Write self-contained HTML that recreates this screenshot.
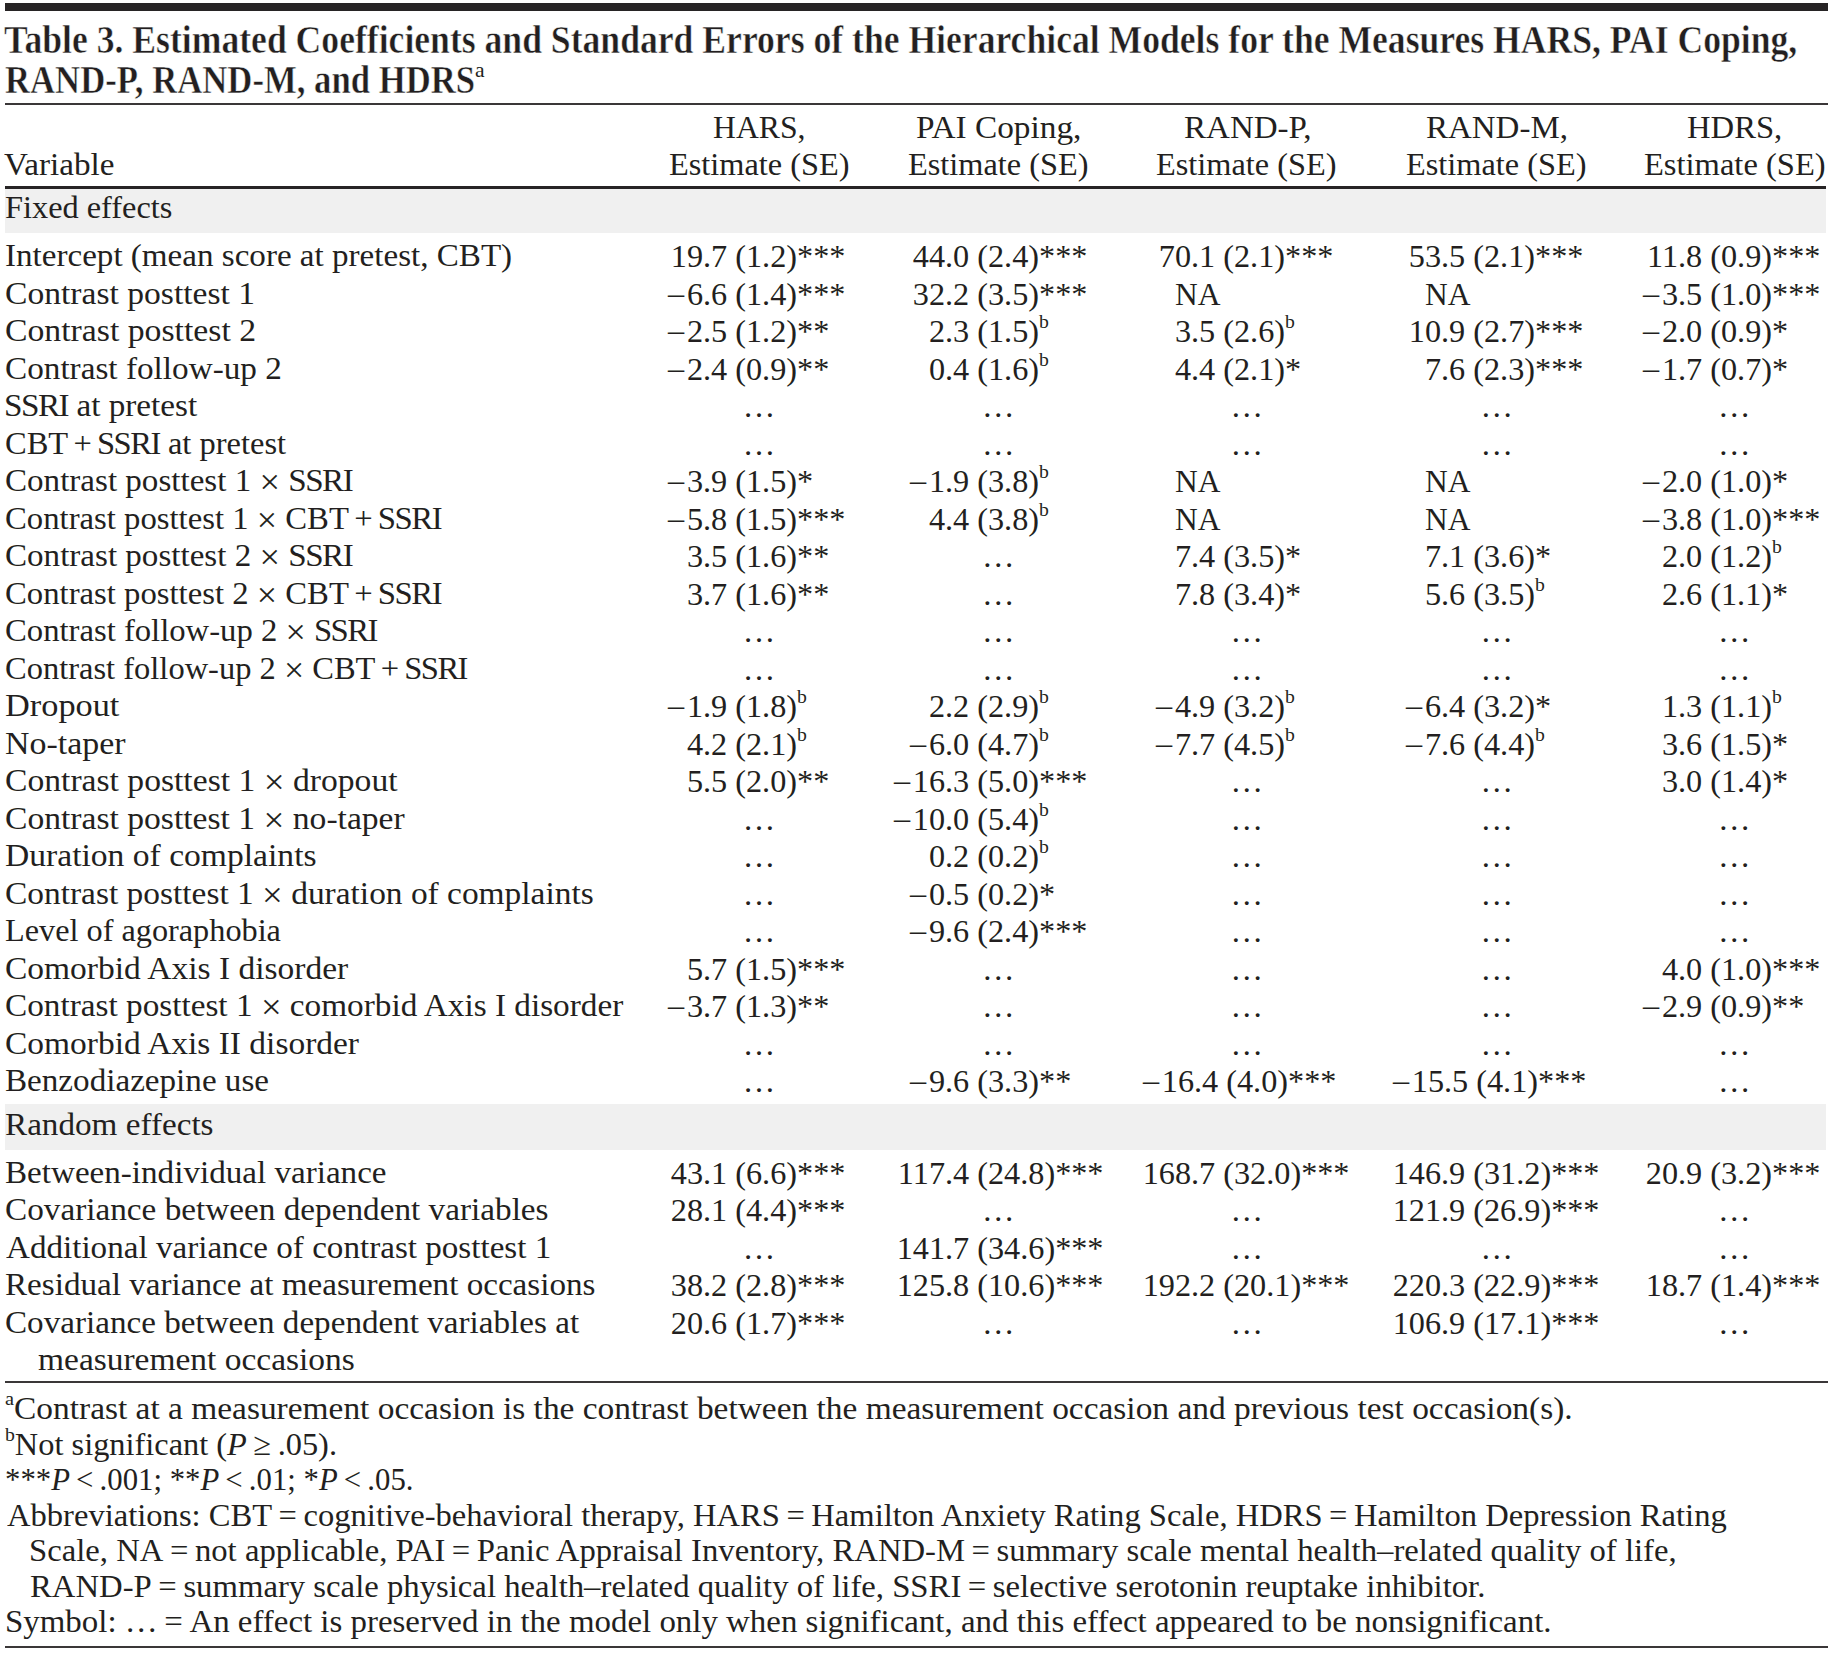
<!DOCTYPE html>
<html lang="en"><head><meta charset="utf-8"><title>Table 3</title>
<style>
html,body{margin:0;padding:0;background:#fff}
body{width:1839px;height:1656px;overflow:hidden;position:relative;color:#231f20;
 font-family:"Liberation Serif","DejaVu Serif",serif;font-size:32.5px}
#tbl{position:absolute;left:0;top:0;width:1839px;height:1656px}
.r{position:absolute;background:#272425;left:5px;width:1823px}
.r.thin{background:#3a3738}
.g{position:absolute;background:#f0f0f0;left:5px;width:1821px}
.row,.head,.sect,.title,.note{position:absolute;left:0;width:1839px;height:37.5px;line-height:37.5px}
.note{height:35.5px;line-height:35.5px}
.title{height:40px;line-height:40px;font-size:40.7px;font-weight:bold;-webkit-text-stroke:.5px #fff}
.t{position:absolute;top:0;white-space:nowrap;transform-origin:0 0}
.c{top:1px}
.ip{position:absolute;right:100%;top:0}
sup{font-size:.61em;vertical-align:baseline;position:relative;top:-.7em;line-height:0}
.title sup{font-size:.52em;top:-.76em;font-weight:normal;display:inline-block;transform:scaleX(1.2);transform-origin:0 50%;-webkit-text-stroke:0}
i{font-style:italic}
.m{position:relative;top:-.045em;margin-right:.085em}
.x{font-size:1.1em;position:relative;top:.07em;line-height:0}
.sc{letter-spacing:-.045em}
.op{margin:0 .16em}
</style></head>
<body>
<div id="tbl">
<div class="r" style="top:3px;height:8px"></div>
<div class="r thin" style="top:103px;height:2px"></div>
<div class="r" style="top:186px;height:3px;width:1821px"></div>
<div class="g" style="top:189px;height:44px"></div>
<div class="g" style="top:1104px;height:46px"></div>
<div class="r thin" style="top:1381px;height:2px"></div>
<div class="r thin" style="top:1646px;height:2px"></div>
<div class="title" style="top:19.60px">
 <div id="t0" class="t ti" style="left:3.98px;transform:scaleX(0.8755)">Table 3. Estimated Coefficients and Standard Errors of the Hierarchical Models for the Measures HARS, PAI Coping,</div>
</div>
<div class="title" style="top:59.60px">
 <div id="t1" class="t ti" style="left:5.49px;transform:scaleX(0.8529)">RAND-P, RAND-M, and HDRS<sup>a</sup></div>
</div>
<div class="head" style="top:109.35px">
 <div id="t2" class="t h" style="left:713.03px;transform:scaleX(0.9759)">HARS,</div>
 <div id="t3" class="t h" style="left:916.46px;transform:scaleX(1.0253)">PAI Coping,</div>
 <div id="t4" class="t h" style="left:1183.98px;transform:scaleX(1.0163)">RAND-P,</div>
 <div id="t5" class="t h" style="left:1425.99px;transform:scaleX(1.0146)">RAND-M,</div>
 <div id="t6" class="t h" style="left:1686.99px;transform:scaleX(1.0045)">HDRS,</div>
</div>
<div class="head" style="top:146.35px">
 <div id="t7" class="t l" style="left:3.98px;transform:scaleX(1.0208)">Variable</div>
 <div id="t8" class="t h" style="left:669.01px;transform:scaleX(0.9955)">Estimate (SE)</div>
 <div id="t9" class="t h" style="left:907.76px;transform:scaleX(0.9944)">Estimate (SE)</div>
 <div id="t10" class="t h" style="left:1156.01px;transform:scaleX(0.9944)">Estimate (SE)</div>
 <div id="t11" class="t h" style="left:1406.01px;transform:scaleX(0.9944)">Estimate (SE)</div>
 <div id="t12" class="t h" style="left:1644.00px;transform:scaleX(1.0011)">Estimate (SE)</div>
</div>
<div class="sect" style="top:189.35px">
 <div id="t13" class="t l" style="left:5.00px;transform:scaleX(0.9952)">Fixed effects</div>
</div>
<div class="row" style="top:237.35px">
 <div id="t14" class="t l" style="left:4.98px;transform:scaleX(1.0181)">Intercept (mean score at pretest, CBT)</div>
 <div id="t15" class="t c n" style="left:703.15px;transform:scaleX(0.9920)"><span class="ip">19</span>.7 (1.2)***</div>
 <div id="t16" class="t c n" style="left:944.75px;transform:scaleX(0.9920)"><span class="ip">44</span>.0 (2.4)***</div>
 <div id="t17" class="t c n" style="left:1190.65px;transform:scaleX(0.9920)"><span class="ip">70</span>.1 (2.1)***</div>
 <div id="t18" class="t c n" style="left:1440.65px;transform:scaleX(0.9920)"><span class="ip">53</span>.5 (2.1)***</div>
 <div id="t19" class="t c n" style="left:1678.00px;transform:scaleX(0.9920)"><span class="ip">11</span>.8 (0.9)***</div>
</div>
<div class="row" style="top:275.35px">
 <div id="t20" class="t l" style="left:4.97px;transform:scaleX(1.0335)">Contrast posttest 1</div>
 <div id="t21" class="t c n" style="left:703.15px;transform:scaleX(0.9920)"><span class="ip"><span class="m">–</span>6</span>.6 (1.4)***</div>
 <div id="t22" class="t c n" style="left:944.75px;transform:scaleX(0.9920)"><span class="ip">32</span>.2 (3.5)***</div>
 <div id="t23" class="t c" style="left:1175.26px;transform:scaleX(0.9697)">NA</div>
 <div id="t24" class="t c" style="left:1425.26px;transform:scaleX(0.9697)">NA</div>
 <div id="t25" class="t c n" style="left:1678.00px;transform:scaleX(0.9920)"><span class="ip"><span class="m">–</span>3</span>.5 (1.0)***</div>
</div>
<div class="row" style="top:312.35px">
 <div id="t26" class="t l" style="left:4.96px;transform:scaleX(1.0377)">Contrast posttest 2</div>
 <div id="t27" class="t c n" style="left:703.15px;transform:scaleX(0.9920)"><span class="ip"><span class="m">–</span>2</span>.5 (1.2)**</div>
 <div id="t28" class="t c n" style="left:944.75px;transform:scaleX(0.9920)"><span class="ip">2</span>.3 (1.5)<sup>b</sup></div>
 <div id="t29" class="t c n" style="left:1190.65px;transform:scaleX(0.9920)"><span class="ip">3</span>.5 (2.6)<sup>b</sup></div>
 <div id="t30" class="t c n" style="left:1440.65px;transform:scaleX(0.9920)"><span class="ip">10</span>.9 (2.7)***</div>
 <div id="t31" class="t c n" style="left:1678.00px;transform:scaleX(0.9920)"><span class="ip"><span class="m">–</span>2</span>.0 (0.9)*</div>
</div>
<div class="row" style="top:350.35px">
 <div id="t32" class="t l" style="left:4.98px;transform:scaleX(1.0224)">Contrast follow-up 2</div>
 <div id="t33" class="t c n" style="left:703.15px;transform:scaleX(0.9920)"><span class="ip"><span class="m">–</span>2</span>.4 (0.9)**</div>
 <div id="t34" class="t c n" style="left:944.75px;transform:scaleX(0.9920)"><span class="ip">0</span>.4 (1.6)<sup>b</sup></div>
 <div id="t35" class="t c n" style="left:1190.65px;transform:scaleX(0.9920)"><span class="ip">4</span>.4 (2.1)*</div>
 <div id="t36" class="t c n" style="left:1440.65px;transform:scaleX(0.9920)"><span class="ip">7</span>.6 (2.3)***</div>
 <div id="t37" class="t c n" style="left:1678.00px;transform:scaleX(0.9920)"><span class="ip"><span class="m">–</span>1</span>.7 (0.7)*</div>
</div>
<div class="row" style="top:387.35px">
 <div id="t38" class="t l" style="left:3.96px;transform:scaleX(1.0214)"><span class="sc">SSRI</span> at pretest</div>
 <div id="t39" class="t c e" style="left:742.75px">…</div>
 <div id="t40" class="t c e" style="left:982.00px">…</div>
 <div id="t41" class="t c e" style="left:1230.50px">…</div>
 <div id="t42" class="t c e" style="left:1480.50px">…</div>
 <div id="t43" class="t c e" style="left:1718.00px">…</div>
</div>
<div class="row" style="top:425.35px">
 <div id="t44" class="t l" style="left:5.00px">CBT<span class="op">+</span><span class="sc">SSRI</span> at pretest</div>
 <div id="t45" class="t c e" style="left:742.75px">…</div>
 <div id="t46" class="t c e" style="left:982.00px">…</div>
 <div id="t47" class="t c e" style="left:1230.50px">…</div>
 <div id="t48" class="t c e" style="left:1480.50px">…</div>
 <div id="t49" class="t c e" style="left:1718.00px">…</div>
</div>
<div class="row" style="top:462.35px">
 <div id="t50" class="t l" style="left:4.98px;transform:scaleX(1.0176)">Contrast posttest 1 <span class="x">×</span> <span class="sc">SSRI</span></div>
 <div id="t51" class="t c n" style="left:703.15px;transform:scaleX(0.9920)"><span class="ip"><span class="m">–</span>3</span>.9 (1.5)*</div>
 <div id="t52" class="t c n" style="left:944.75px;transform:scaleX(0.9920)"><span class="ip"><span class="m">–</span>1</span>.9 (3.8)<sup>b</sup></div>
 <div id="t53" class="t c" style="left:1175.26px;transform:scaleX(0.9697)">NA</div>
 <div id="t54" class="t c" style="left:1425.26px;transform:scaleX(0.9697)">NA</div>
 <div id="t55" class="t c n" style="left:1678.00px;transform:scaleX(0.9920)"><span class="ip"><span class="m">–</span>2</span>.0 (1.0)*</div>
</div>
<div class="row" style="top:500.35px">
 <div id="t56" class="t l" style="left:4.99px;transform:scaleX(1.0069)">Contrast posttest 1 <span class="x">×</span> CBT<span class="op">+</span><span class="sc">SSRI</span></div>
 <div id="t57" class="t c n" style="left:703.15px;transform:scaleX(0.9920)"><span class="ip"><span class="m">–</span>5</span>.8 (1.5)***</div>
 <div id="t58" class="t c n" style="left:944.75px;transform:scaleX(0.9920)"><span class="ip">4</span>.4 (3.8)<sup>b</sup></div>
 <div id="t59" class="t c" style="left:1175.26px;transform:scaleX(0.9697)">NA</div>
 <div id="t60" class="t c" style="left:1425.26px;transform:scaleX(0.9697)">NA</div>
 <div id="t61" class="t c n" style="left:1678.00px;transform:scaleX(0.9920)"><span class="ip"><span class="m">–</span>3</span>.8 (1.0)***</div>
</div>
<div class="row" style="top:537.35px">
 <div id="t62" class="t l" style="left:4.98px;transform:scaleX(1.0176)">Contrast posttest 2 <span class="x">×</span> <span class="sc">SSRI</span></div>
 <div id="t63" class="t c n" style="left:703.15px;transform:scaleX(0.9920)"><span class="ip">3</span>.5 (1.6)**</div>
 <div id="t64" class="t c e" style="left:982.00px">…</div>
 <div id="t65" class="t c n" style="left:1190.65px;transform:scaleX(0.9920)"><span class="ip">7</span>.4 (3.5)*</div>
 <div id="t66" class="t c n" style="left:1440.65px;transform:scaleX(0.9920)"><span class="ip">7</span>.1 (3.6)*</div>
 <div id="t67" class="t c n" style="left:1678.00px;transform:scaleX(0.9920)"><span class="ip">2</span>.0 (1.2)<sup>b</sup></div>
</div>
<div class="row" style="top:575.35px">
 <div id="t68" class="t l" style="left:4.99px;transform:scaleX(1.0069)">Contrast posttest 2 <span class="x">×</span> CBT<span class="op">+</span><span class="sc">SSRI</span></div>
 <div id="t69" class="t c n" style="left:703.15px;transform:scaleX(0.9920)"><span class="ip">3</span>.7 (1.6)**</div>
 <div id="t70" class="t c e" style="left:982.00px">…</div>
 <div id="t71" class="t c n" style="left:1190.65px;transform:scaleX(0.9920)"><span class="ip">7</span>.8 (3.4)*</div>
 <div id="t72" class="t c n" style="left:1440.65px;transform:scaleX(0.9920)"><span class="ip">5</span>.6 (3.5)<sup>b</sup></div>
 <div id="t73" class="t c n" style="left:1678.00px;transform:scaleX(0.9920)"><span class="ip">2</span>.6 (1.1)*</div>
</div>
<div class="row" style="top:612.35px">
 <div id="t74" class="t l" style="left:4.99px;transform:scaleX(1.0054)">Contrast follow-up 2 <span class="x">×</span> <span class="sc">SSRI</span></div>
 <div id="t75" class="t c e" style="left:742.75px">…</div>
 <div id="t76" class="t c e" style="left:982.00px">…</div>
 <div id="t77" class="t c e" style="left:1230.50px">…</div>
 <div id="t78" class="t c e" style="left:1480.50px">…</div>
 <div id="t79" class="t c e" style="left:1718.00px">…</div>
</div>
<div class="row" style="top:650.35px">
 <div id="t80" class="t l" style="left:5.00px">Contrast follow-up 2 <span class="x">×</span> CBT<span class="op">+</span><span class="sc">SSRI</span></div>
 <div id="t81" class="t c e" style="left:742.75px">…</div>
 <div id="t82" class="t c e" style="left:982.00px">…</div>
 <div id="t83" class="t c e" style="left:1230.50px">…</div>
 <div id="t84" class="t c e" style="left:1480.50px">…</div>
 <div id="t85" class="t c e" style="left:1718.00px">…</div>
</div>
<div class="row" style="top:687.35px">
 <div id="t86" class="t l" style="left:4.94px;transform:scaleX(1.0561)">Dropout</div>
 <div id="t87" class="t c n" style="left:703.15px;transform:scaleX(0.9920)"><span class="ip"><span class="m">–</span>1</span>.9 (1.8)<sup>b</sup></div>
 <div id="t88" class="t c n" style="left:944.75px;transform:scaleX(0.9920)"><span class="ip">2</span>.2 (2.9)<sup>b</sup></div>
 <div id="t89" class="t c n" style="left:1190.65px;transform:scaleX(0.9920)"><span class="ip"><span class="m">–</span>4</span>.9 (3.2)<sup>b</sup></div>
 <div id="t90" class="t c n" style="left:1440.65px;transform:scaleX(0.9920)"><span class="ip"><span class="m">–</span>6</span>.4 (3.2)*</div>
 <div id="t91" class="t c n" style="left:1678.00px;transform:scaleX(0.9920)"><span class="ip">1</span>.3 (1.1)<sup>b</sup></div>
</div>
<div class="row" style="top:725.35px">
 <div id="t92" class="t l" style="left:4.96px;transform:scaleX(1.0439)">No-taper</div>
 <div id="t93" class="t c n" style="left:703.15px;transform:scaleX(0.9920)"><span class="ip">4</span>.2 (2.1)<sup>b</sup></div>
 <div id="t94" class="t c n" style="left:944.75px;transform:scaleX(0.9920)"><span class="ip"><span class="m">–</span>6</span>.0 (4.7)<sup>b</sup></div>
 <div id="t95" class="t c n" style="left:1190.65px;transform:scaleX(0.9920)"><span class="ip"><span class="m">–</span>7</span>.7 (4.5)<sup>b</sup></div>
 <div id="t96" class="t c n" style="left:1440.65px;transform:scaleX(0.9920)"><span class="ip"><span class="m">–</span>7</span>.6 (4.4)<sup>b</sup></div>
 <div id="t97" class="t c n" style="left:1678.00px;transform:scaleX(0.9920)"><span class="ip">3</span>.6 (1.5)*</div>
</div>
<div class="row" style="top:762.35px">
 <div id="t98" class="t l" style="left:4.97px;transform:scaleX(1.0344)">Contrast posttest 1 <span class="x">×</span> dropout</div>
 <div id="t99" class="t c n" style="left:703.15px;transform:scaleX(0.9920)"><span class="ip">5</span>.5 (2.0)**</div>
 <div id="t100" class="t c n" style="left:944.75px;transform:scaleX(0.9920)"><span class="ip"><span class="m">–</span>16</span>.3 (5.0)***</div>
 <div id="t101" class="t c e" style="left:1230.50px">…</div>
 <div id="t102" class="t c e" style="left:1480.50px">…</div>
 <div id="t103" class="t c n" style="left:1678.00px;transform:scaleX(0.9920)"><span class="ip">3</span>.0 (1.4)*</div>
</div>
<div class="row" style="top:800.35px">
 <div id="t104" class="t l" style="left:4.97px;transform:scaleX(1.0338)">Contrast posttest 1 <span class="x">×</span> no-taper</div>
 <div id="t105" class="t c e" style="left:742.75px">…</div>
 <div id="t106" class="t c n" style="left:944.75px;transform:scaleX(0.9920)"><span class="ip"><span class="m">–</span>10</span>.0 (5.4)<sup>b</sup></div>
 <div id="t107" class="t c e" style="left:1230.50px">…</div>
 <div id="t108" class="t c e" style="left:1480.50px">…</div>
 <div id="t109" class="t c e" style="left:1718.00px">…</div>
</div>
<div class="row" style="top:837.35px">
 <div id="t110" class="t l" style="left:4.97px;transform:scaleX(1.0334)">Duration of complaints</div>
 <div id="t111" class="t c e" style="left:742.75px">…</div>
 <div id="t112" class="t c n" style="left:944.75px;transform:scaleX(0.9920)"><span class="ip">0</span>.2 (0.2)<sup>b</sup></div>
 <div id="t113" class="t c e" style="left:1230.50px">…</div>
 <div id="t114" class="t c e" style="left:1480.50px">…</div>
 <div id="t115" class="t c e" style="left:1718.00px">…</div>
</div>
<div class="row" style="top:875.35px">
 <div id="t116" class="t l" style="left:4.97px;transform:scaleX(1.0281)">Contrast posttest 1 <span class="x">×</span> duration of complaints</div>
 <div id="t117" class="t c e" style="left:742.75px">…</div>
 <div id="t118" class="t c n" style="left:944.75px;transform:scaleX(0.9920)"><span class="ip"><span class="m">–</span>0</span>.5 (0.2)*</div>
 <div id="t119" class="t c e" style="left:1230.50px">…</div>
 <div id="t120" class="t c e" style="left:1480.50px">…</div>
 <div id="t121" class="t c e" style="left:1718.00px">…</div>
</div>
<div class="row" style="top:912.35px">
 <div id="t122" class="t l" style="left:5.01px;transform:scaleX(0.9928)">Level of agoraphobia</div>
 <div id="t123" class="t c e" style="left:742.75px">…</div>
 <div id="t124" class="t c n" style="left:944.75px;transform:scaleX(0.9920)"><span class="ip"><span class="m">–</span>9</span>.6 (2.4)***</div>
 <div id="t125" class="t c e" style="left:1230.50px">…</div>
 <div id="t126" class="t c e" style="left:1480.50px">…</div>
 <div id="t127" class="t c e" style="left:1718.00px">…</div>
</div>
<div class="row" style="top:950.35px">
 <div id="t128" class="t l" style="left:4.97px;transform:scaleX(1.0301)">Comorbid Axis I disorder</div>
 <div id="t129" class="t c n" style="left:703.15px;transform:scaleX(0.9920)"><span class="ip">5</span>.7 (1.5)***</div>
 <div id="t130" class="t c e" style="left:982.00px">…</div>
 <div id="t131" class="t c e" style="left:1230.50px">…</div>
 <div id="t132" class="t c e" style="left:1480.50px">…</div>
 <div id="t133" class="t c n" style="left:1678.00px;transform:scaleX(0.9920)"><span class="ip">4</span>.0 (1.0)***</div>
</div>
<div class="row" style="top:987.35px">
 <div id="t134" class="t l" style="left:4.98px;transform:scaleX(1.0232)">Contrast posttest 1 <span class="x">×</span> comorbid Axis I disorder</div>
 <div id="t135" class="t c n" style="left:703.15px;transform:scaleX(0.9920)"><span class="ip"><span class="m">–</span>3</span>.7 (1.3)**</div>
 <div id="t136" class="t c e" style="left:982.00px">…</div>
 <div id="t137" class="t c e" style="left:1230.50px">…</div>
 <div id="t138" class="t c e" style="left:1480.50px">…</div>
 <div id="t139" class="t c n" style="left:1678.00px;transform:scaleX(0.9920)"><span class="ip"><span class="m">–</span>2</span>.9 (0.9)**</div>
</div>
<div class="row" style="top:1025.35px">
 <div id="t140" class="t l" style="left:4.97px;transform:scaleX(1.0292)">Comorbid Axis II disorder</div>
 <div id="t141" class="t c e" style="left:742.75px">…</div>
 <div id="t142" class="t c e" style="left:982.00px">…</div>
 <div id="t143" class="t c e" style="left:1230.50px">…</div>
 <div id="t144" class="t c e" style="left:1480.50px">…</div>
 <div id="t145" class="t c e" style="left:1718.00px">…</div>
</div>
<div class="row" style="top:1062.35px">
 <div id="t146" class="t l" style="left:4.98px;transform:scaleX(1.0195)">Benzodiazepine use</div>
 <div id="t147" class="t c e" style="left:742.75px">…</div>
 <div id="t148" class="t c n" style="left:944.75px;transform:scaleX(0.9920)"><span class="ip"><span class="m">–</span>9</span>.6 (3.3)**</div>
 <div id="t149" class="t c n" style="left:1193.75px;transform:scaleX(0.9920)"><span class="ip"><span class="m">–</span>16</span>.4 (4.0)***</div>
 <div id="t150" class="t c n" style="left:1443.75px;transform:scaleX(0.9920)"><span class="ip"><span class="m">–</span>15</span>.5 (4.1)***</div>
 <div id="t151" class="t c e" style="left:1718.00px">…</div>
</div>
<div class="sect" style="top:1106.35px">
 <div id="t152" class="t l" style="left:4.98px;transform:scaleX(1.0208)">Random effects</div>
</div>
<div class="row" style="top:1154.35px">
 <div id="t153" class="t l" style="left:4.98px;transform:scaleX(1.0188)">Between-individual variance</div>
 <div id="t154" class="t c n" style="left:703.15px;transform:scaleX(0.9920)"><span class="ip">43</span>.1 (6.6)***</div>
 <div id="t155" class="t c n" style="left:944.75px;transform:scaleX(0.9920)"><span class="ip">117</span>.4 (24.8)***</div>
 <div id="t156" class="t c n" style="left:1190.65px;transform:scaleX(0.9920)"><span class="ip">168</span>.7 (32.0)***</div>
 <div id="t157" class="t c n" style="left:1440.65px;transform:scaleX(0.9920)"><span class="ip">146</span>.9 (31.2)***</div>
 <div id="t158" class="t c n" style="left:1678.00px;transform:scaleX(0.9920)"><span class="ip">20</span>.9 (3.2)***</div>
</div>
<div class="row" style="top:1191.35px">
 <div id="t159" class="t l" style="left:4.98px;transform:scaleX(1.0227)">Covariance between dependent variables</div>
 <div id="t160" class="t c n" style="left:703.15px;transform:scaleX(0.9920)"><span class="ip">28</span>.1 (4.4)***</div>
 <div id="t161" class="t c e" style="left:982.00px">…</div>
 <div id="t162" class="t c e" style="left:1230.50px">…</div>
 <div id="t163" class="t c n" style="left:1440.65px;transform:scaleX(0.9920)"><span class="ip">121</span>.9 (26.9)***</div>
 <div id="t164" class="t c e" style="left:1718.00px">…</div>
</div>
<div class="row" style="top:1229.35px">
 <div id="t165" class="t l" style="left:6.00px;transform:scaleX(1.0188)">Additional variance of contrast posttest 1</div>
 <div id="t166" class="t c e" style="left:742.75px">…</div>
 <div id="t167" class="t c n" style="left:944.75px;transform:scaleX(0.9920)"><span class="ip">141</span>.7 (34.6)***</div>
 <div id="t168" class="t c e" style="left:1230.50px">…</div>
 <div id="t169" class="t c e" style="left:1480.50px">…</div>
 <div id="t170" class="t c e" style="left:1718.00px">…</div>
</div>
<div class="row" style="top:1266.35px">
 <div id="t171" class="t l" style="left:4.98px;transform:scaleX(1.0191)">Residual variance at measurement occasions</div>
 <div id="t172" class="t c n" style="left:703.15px;transform:scaleX(0.9920)"><span class="ip">38</span>.2 (2.8)***</div>
 <div id="t173" class="t c n" style="left:944.75px;transform:scaleX(0.9920)"><span class="ip">125</span>.8 (10.6)***</div>
 <div id="t174" class="t c n" style="left:1190.65px;transform:scaleX(0.9920)"><span class="ip">192</span>.2 (20.1)***</div>
 <div id="t175" class="t c n" style="left:1440.65px;transform:scaleX(0.9920)"><span class="ip">220</span>.3 (22.9)***</div>
 <div id="t176" class="t c n" style="left:1678.00px;transform:scaleX(0.9920)"><span class="ip">18</span>.7 (1.4)***</div>
</div>
<div class="row" style="top:1304.35px">
 <div id="t177" class="t l" style="left:4.98px;transform:scaleX(1.0196)">Covariance between dependent variables at</div>
 <div id="t178" class="t c n" style="left:703.15px;transform:scaleX(0.9920)"><span class="ip">20</span>.6 (1.7)***</div>
 <div id="t179" class="t c e" style="left:982.00px">…</div>
 <div id="t180" class="t c e" style="left:1230.50px">…</div>
 <div id="t181" class="t c n" style="left:1440.65px;transform:scaleX(0.9920)"><span class="ip">106</span>.9 (17.1)***</div>
 <div id="t182" class="t c e" style="left:1718.00px">…</div>
</div>
<div class="row" style="top:1341.35px">
 <div id="t183" class="t l" style="left:37.97px;transform:scaleX(1.0295)">measurement occasions</div>
</div>
<div class="note" style="top:1391.35px">
 <div id="t184" class="t f" style="left:4.99px;transform:scaleX(1.0280)"><sup>a</sup>Contrast at a measurement occasion is the contrast between the measurement occasion and previous test occasion(s).</div>
</div>
<div class="note" style="top:1427.35px">
 <div id="t185" class="t f" style="left:5.01px;transform:scaleX(0.9964)"><sup>b</sup>Not significant (<i>P</i> ≥ .05).</div>
</div>
<div class="note" style="top:1462.35px">
 <div id="t186" class="t f" style="left:4.58px;transform:scaleX(0.9463)">***<i>P</i> &lt; .001; **<i>P</i> &lt; .01; *<i>P</i> &lt; .05.</div>
</div>
<div class="note" style="top:1498.35px">
 <div id="t187" class="t f" style="left:7.00px;transform:scaleX(1.0023)">Abbreviations: CBT = cognitive-behavioral therapy, HARS = Hamilton Anxiety Rating Scale, HDRS = Hamilton Depression Rating</div>
</div>
<div class="note" style="top:1533.35px">
 <div id="t188" class="t f" style="left:29.24px;transform:scaleX(1.0061)">Scale, NA = not applicable, PAI = Panic Appraisal Inventory, RAND-M = summary scale mental health–related quality of life,</div>
</div>
<div class="note" style="top:1569.35px">
 <div id="t189" class="t f" style="left:30.25px;transform:scaleX(1.0069)">RAND-P = summary scale physical health–related quality of life, SSRI = selective serotonin reuptake inhibitor.</div>
</div>
<div class="note" style="top:1604.35px">
 <div id="t190" class="t f" style="left:4.98px;transform:scaleX(1.0125)">Symbol: … = An effect is preserved in the model only when significant, and this effect appeared to be nonsignificant.</div>
</div>
</div>
</body></html>
